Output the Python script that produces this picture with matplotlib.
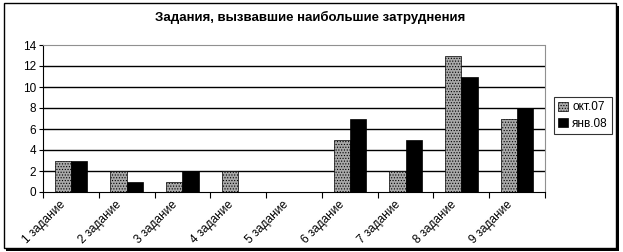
import matplotlib.pyplot as plt
import numpy as np
from matplotlib.patches import Rectangle

# data
tasks = ["1 задание", "2 задание", "3 задание", "4 задание", "5 задание",
         "6 задание", "7 задание", "8 задание", "9 задание"]
oct07 = [3, 2, 1, 2, 0, 5, 2, 13, 7]
jan08 = [3, 1, 2, 0, 0, 7, 5, 11, 8]
series_names = ["окт.07", "янв.08"]

plt.rcParams['font.family'] = ['Liberation Sans', 'DejaVu Sans']
plt.rcParams['hatch.color'] = '#6a6a6a'
plt.rcParams['hatch.linewidth'] = 0.5

fig = plt.figure(figsize=(6.23, 2.52), dpi=100)
fig.patch.set_facecolor('white')

# outer frame with shadow
fig.patches.append(Rectangle((6 / 623, 1 - 251 / 252), 613 / 623, 245 / 252,
                             transform=fig.transFigure, facecolor='black',
                             edgecolor='none', zorder=0))
fig.patches.append(Rectangle((4 / 623, 1 - 248 / 252), 612 / 623, 245 / 252,
                             transform=fig.transFigure, facecolor='white',
                             edgecolor='black', linewidth=1, zorder=1))

ax = fig.add_axes([43 / 623, 1 - 192 / 252, 502 / 623, 147 / 252])
ax.set_zorder(2)

x = np.arange(len(tasks))
w = 0.29
ax.bar(x - w / 2, oct07, w, color='#a8a8a8', edgecolor='black', linewidth=0.5,
       hatch='......', label=series_names[0], zorder=3)
ax.bar(x + w / 2, jan08, w, color='black', edgecolor='black', linewidth=0.5,
       label=series_names[1], zorder=3)

ax.set_xlim(-0.5, len(tasks) - 0.5)
ax.set_ylim(0, 14)
ax.set_yticks(range(0, 15, 2))
for yv in range(2, 14, 2):
    ax.axhline(yv, color='black', linewidth=1, zorder=1)

ax.set_xticks(np.arange(-0.5, len(tasks), 1))
ax.set_xticklabels([])
ax.tick_params(axis='x', which='major', length=4, width=0.8, direction='out')
for xi, t in zip(x, tasks):
    ax.text(xi - 0.2, -0.6, t, rotation=45, ha='right', va='top',
            rotation_mode='anchor', fontsize=8.5)

ax.tick_params(axis='y', length=3, width=0.8, labelsize=8.5, pad=2)

ax.spines['top'].set_color('#909090')
ax.spines['top'].set_linestyle((0, (1, 1)))
ax.spines['right'].set_color('#909090')
ax.spines['right'].set_linestyle((0, (1, 1)))
ax.spines['left'].set_linewidth(0.8)
ax.spines['bottom'].set_linewidth(0.8)

fig.text(310 / 623, 1 - 17 / 252, "Задания, вызвавшие наибольшие затруднения",
         ha='center', va='center', fontsize=9.5, fontweight='bold', zorder=3)

leg = ax.legend(loc='center left', bbox_to_anchor=(1.018, 0.52), fontsize=8.5,
                frameon=True, fancybox=False, edgecolor='black',
                handlelength=0.8, handleheight=0.8, handletextpad=0.4,
                borderpad=0.35, labelspacing=0.35, borderaxespad=0)
leg.get_frame().set_linewidth(0.8)

fig.savefig("out.png", dpi=100, facecolor='white')
